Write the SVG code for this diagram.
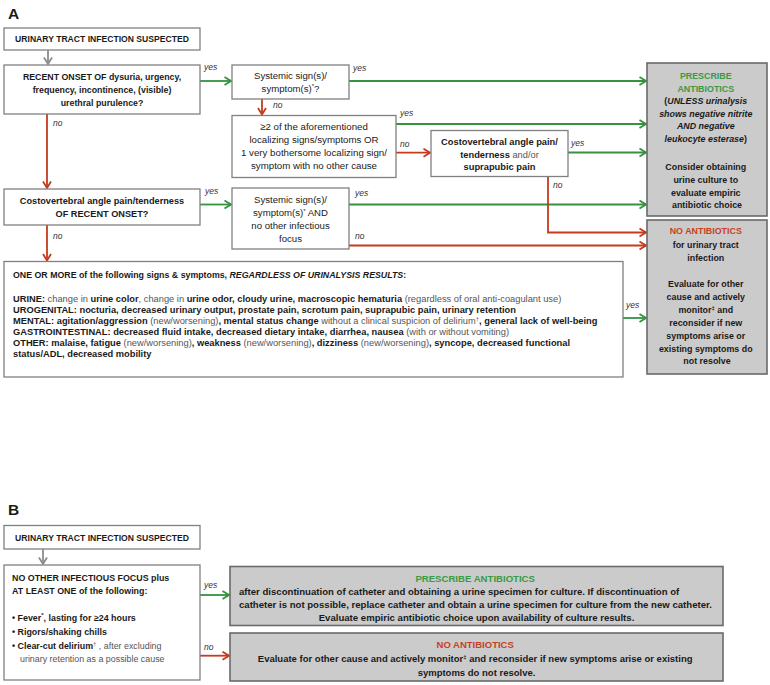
<svg xmlns="http://www.w3.org/2000/svg" width="770" height="685" viewBox="0 0 770 685">
<defs>
<style>
text{font-family:"Liberation Sans",Arial,sans-serif;fill:#1a1a1a}
.b{font-weight:bold}
.r{font-weight:normal;fill:#555}
.i{font-style:italic}
.n{font-style:normal}
.c{text-anchor:middle}
.lab{font-style:italic;font-size:8.5px;fill:#333}
.box{fill:#fff;stroke:#808080;stroke-width:1.3}
.gbox{fill:#cbcbcb;stroke:#6a6a6a;stroke-width:1.6}
.cg{fill:none;stroke:#35923f;stroke-width:1.8}
.cr{fill:none;stroke:#c63a1f;stroke-width:1.8}
.cy{fill:none;stroke:#8c8c8c;stroke-width:1.8}
.gt{fill:#3a9a44}
.rt{fill:#c8401e}
.sup{font-size:6px}
</style>
<marker id="mg" markerUnits="userSpaceOnUse" markerWidth="10" markerHeight="10" viewBox="0 0 10 10" refX="9" refY="5" orient="auto"><path d="M2.5,1 L9,5 L2.5,9" fill="none" stroke="#35923f" stroke-width="1.8"/></marker>
<marker id="mr" markerUnits="userSpaceOnUse" markerWidth="10" markerHeight="10" viewBox="0 0 10 10" refX="9" refY="5" orient="auto"><path d="M2.5,1 L9,5 L2.5,9" fill="none" stroke="#c63a1f" stroke-width="1.8"/></marker>
<marker id="my" markerUnits="userSpaceOnUse" markerWidth="10" markerHeight="10" viewBox="0 0 10 10" refX="9" refY="5" orient="auto"><path d="M2.5,1 L9,5 L2.5,9" fill="none" stroke="#8c8c8c" stroke-width="1.8"/></marker>
</defs>
<rect width="770" height="685" fill="#fff"/>

<text x="8" y="19" class="b" font-size="15.5">A</text>
<text x="8" y="515" class="b" font-size="15.5">B</text>

<g id="connectors">
<path class="cy" d="M48,50.5 V64" marker-end="url(#my)"/>
<path class="cg" d="M200,81 H231" marker-end="url(#mg)"/>
<path class="cg" d="M349,81 H646" marker-end="url(#mg)"/>
<path class="cg" d="M396,124 H646" marker-end="url(#mg)"/>
<path class="cg" d="M568,152.5 H646" marker-end="url(#mg)"/>
<path class="cg" d="M200,204.5 H231" marker-end="url(#mg)"/>
<path class="cg" d="M349,204.5 H646" marker-end="url(#mg)"/>
<path class="cg" d="M623,318 H646" marker-end="url(#mg)"/>
<path class="cr" d="M47,114 V188" marker-end="url(#mr)"/>
<path class="cr" d="M262,99 V114.5" marker-end="url(#mr)"/>
<path class="cr" d="M396,152.7 H430" marker-end="url(#mr)"/>
<path class="cr" d="M548,177 V232.5 H646" marker-end="url(#mr)"/>
<path class="cr" d="M349,245.5 H646" marker-end="url(#mr)"/>
<path class="cr" d="M47,225 V260.5" marker-end="url(#mr)"/>
<path class="cy" d="M43,549 V564" marker-end="url(#my)"/>
<path class="cg" d="M200,595 H229" marker-end="url(#mg)"/>
<path class="cr" d="M200,655.7 H229" marker-end="url(#mr)"/>
<text class="lab" x="204" y="70">yes</text>
<text class="lab" x="53" y="126">no</text>
<text class="lab" x="353" y="71">yes</text>
<text class="lab" x="273" y="108">no</text>
<text class="lab" x="400" y="116">yes</text>
<text class="lab" x="400" y="147">no</text>
<text class="lab" x="571" y="145.5">yes</text>
<text class="lab" x="553" y="188">no</text>
<text class="lab" x="205" y="194">yes</text>
<text class="lab" x="53" y="239">no</text>
<text class="lab" x="355" y="196">yes</text>
<text class="lab" x="355" y="239">no</text>
<text class="lab" x="626" y="308">yes</text>
<text class="lab" x="204" y="588">yes</text>
<text class="lab" x="204" y="650">no</text>
</g>

<g id="a-start">
<rect class="box" x="4" y="28" width="196" height="22"/>
<text class="b c" x="102" y="42" font-size="8.6">URINARY TRACT INFECTION SUSPECTED</text>
</g>

<g id="a-recent-onset">
<rect class="box" x="4" y="65" width="196" height="49"/>
<text class="b c" font-size="8.8"><tspan x="102" y="79.5">RECENT ONSET OF dysuria, urgency,</tspan><tspan x="102" y="92.5">frequency, incontinence, (visible)</tspan><tspan x="102" y="105.5">urethral purulence?</tspan></text>
</g>

<g id="a-systemic1">
<rect class="box" x="232" y="65" width="117" height="34"/>
<text class="c" font-size="9.6"><tspan x="290.5" y="79">Systemic sign(s)/</tspan><tspan x="290.5" y="91.5">symptom(s)<tspan class="sup" dy="-3.5">*</tspan><tspan dy="3.5">?</tspan></tspan></text>
</g>

<g id="a-localizing">
<rect class="box" x="232" y="115.5" width="164" height="62"/>
<text class="c" font-size="9.7"><tspan x="314" y="130">≥2 of the aforementioned</tspan><tspan x="314" y="143">localizing signs/symptoms OR</tspan><tspan x="314" y="156">1 very bothersome localizing sign/</tspan><tspan x="314" y="168.5">symptom with no other cause</tspan></text>
</g>

<g id="a-cva-supra">
<rect class="box" x="431" y="130.5" width="137" height="46"/>
<text class="c b" font-size="9.3"><tspan x="499.5" y="145">Costovertebral angle pain/</tspan><tspan x="499.5" y="157.5">tenderness <tspan class="r">and/or</tspan></tspan><tspan x="499.5" y="170">suprapubic pain</tspan></text>
</g>

<g id="a-cva-recent">
<rect class="box" x="4" y="189" width="196" height="36"/>
<text class="c b" font-size="9.2"><tspan x="102" y="204">Costovertebral angle pain/tenderness</tspan><tspan x="102" y="216.5">OF RECENT ONSET?</tspan></text>
</g>

<g id="a-systemic2">
<rect class="box" x="232" y="188" width="117" height="61"/>
<text class="c" font-size="9.6"><tspan x="290.5" y="203">Systemic sign(s)/</tspan><tspan x="290.5" y="216">symptom(s)<tspan class="sup" dy="-3.5">*</tspan><tspan dy="3.5"> AND</tspan></tspan><tspan x="290.5" y="228.5">no other infectious</tspan><tspan x="290.5" y="241.5">focus</tspan></text>
</g>

<g id="a-signs">
<rect class="box" x="4" y="261.5" width="619" height="115.5"/>
<text class="b" font-size="8.8" x="13" y="277.5">ONE OR MORE of the following signs &amp; symptoms, <tspan class="i">REGARDLESS OF URINALYSIS RESULTS</tspan>:</text>
<text class="b" font-size="9.3">
<tspan x="13" y="301.5">URINE:<tspan class="r"> change in </tspan>urine color<tspan class="r">, change in </tspan>urine odor, cloudy urine, macroscopic hematuria<tspan class="r"> (regardless of oral anti-coagulant use)</tspan></tspan>
<tspan x="13" y="312.5">UROGENITAL: nocturia, decreased urinary output, prostate pain, scrotum pain, suprapubic pain, urinary retention</tspan>
<tspan x="13" y="323.5">MENTAL: agitation/aggression<tspan class="r"> (new/worsening)</tspan>, mental status change<tspan class="r"> without a clinical suspicion of delirium</tspan><tspan class="r sup" dy="-3">†</tspan><tspan dy="3">, general lack of well-being</tspan></tspan>
<tspan x="13" y="334.5">GASTROINTESTINAL: decreased fluid intake, decreased dietary intake, diarrhea, nausea<tspan class="r"> (with or without vomiting)</tspan></tspan>
<tspan x="13" y="345.5">OTHER: malaise, fatigue<tspan class="r"> (new/worsening)</tspan>, weakness<tspan class="r"> (new/worsening)</tspan>, dizziness<tspan class="r"> (new/worsening)</tspan>, syncope, decreased functional</tspan>
<tspan x="13" y="356.5">status/ADL, decreased mobility</tspan>
</text>
</g>

<g id="a-prescribe">
<rect class="gbox" x="647" y="63" width="120" height="153"/>
<text class="c b" font-size="8.9">
<tspan x="707" y="79" class="gt">PRESCRIBE</tspan>
<tspan x="707" y="91.5" class="gt">ANTIBIOTICS</tspan>
<tspan x="707" y="104">(<tspan class="i">UNLESS urinalysis</tspan></tspan>
<tspan x="707" y="116.5" class="i">shows negative nitrite</tspan>
<tspan x="707" y="129" class="i">AND negative</tspan>
<tspan x="707" y="141.5"><tspan class="i">leukocyte esterase</tspan>)</tspan>
<tspan x="707" y="170">Consider obtaining</tspan>
<tspan x="707" y="183">urine culture to</tspan>
<tspan x="707" y="195.5">evaluate empiric</tspan>
<tspan x="707" y="208">antibiotic choice</tspan>
</text>
</g>

<g id="a-no-antibiotics">
<rect class="gbox" x="647" y="220" width="120" height="154"/>
<text class="c b" font-size="8.9">
<tspan x="707" y="234" class="rt">NO ANTIBIOTICS</tspan>
<tspan x="707" y="247.5">for urinary tract</tspan>
<tspan x="707" y="260.5">infection</tspan>
<tspan x="707" y="286.5">Evaluate for other</tspan>
<tspan x="707" y="299.5">cause and actively</tspan>
<tspan x="707" y="312.5">monitor<tspan class="sup" dy="-3">‡</tspan><tspan dy="3"> and</tspan></tspan>
<tspan x="707" y="325.5">reconsider if new</tspan>
<tspan x="707" y="338.5">symptoms arise or</tspan>
<tspan x="707" y="351.5">existing symptoms do</tspan>
<tspan x="707" y="364">not resolve</tspan>
</text>
</g>

<g id="b-start">
<rect class="box" x="4" y="525.5" width="196" height="23.5"/>
<text class="b c" x="102" y="541" font-size="8.6">URINARY TRACT INFECTION SUSPECTED</text>
</g>

<g id="b-criteria">
<rect class="box" x="4" y="565" width="196" height="115"/>
<text class="b" font-size="8.9">
<tspan x="12" y="580.5">NO OTHER INFECTIOUS FOCUS plus</tspan>
<tspan x="12" y="594">AT LEAST ONE of the following:</tspan>
<tspan x="12" y="620.5">• Fever<tspan class="sup" dy="-3.5">*</tspan><tspan dy="3.5">, lasting for ≥24 hours</tspan></tspan>
<tspan x="12" y="635">• Rigors/shaking chills</tspan>
<tspan x="12" y="649">• Clear-cut delirium<tspan class="sup r" dy="-3.5">†</tspan><tspan class="r" dy="3.5"> , after excluding</tspan></tspan>
<tspan x="20" y="661.5" class="r">urinary retention as a possible cause</tspan>
</text>
</g>

<g id="b-prescribe">
<rect class="gbox" x="230" y="566.5" width="493" height="59"/>
<text class="b" font-size="9.6">
<tspan x="476.5" y="581.5" class="gt c">PRESCRIBE ANTIBIOTICS</tspan>
<tspan x="239" y="595">after discontinuation of catheter and obtaining a urine specimen for culture. If discontinuation of</tspan>
<tspan x="239" y="607.5">catheter is not possible, replace catheter and obtain a urine specimen for culture from the new catheter.</tspan>
<tspan x="476.5" y="621" class="c">Evaluate empiric antibiotic choice upon availability of culture results.</tspan>
</text>
</g>

<g id="b-no-antibiotics">
<rect class="gbox" x="230" y="633" width="493" height="48"/>
<text class="b c" font-size="9.5">
<tspan x="476.5" y="648" class="rt">NO ANTIBIOTICS</tspan>
<tspan x="476.5" y="661.5">Evaluate for other cause and actively monitor<tspan class="sup" dy="-3">‡</tspan><tspan dy="3"> and reconsider if new symptoms arise or existing</tspan></tspan>
<tspan x="476.5" y="675.5">symptoms do not resolve.</tspan>
</text>
</g>
</svg>
